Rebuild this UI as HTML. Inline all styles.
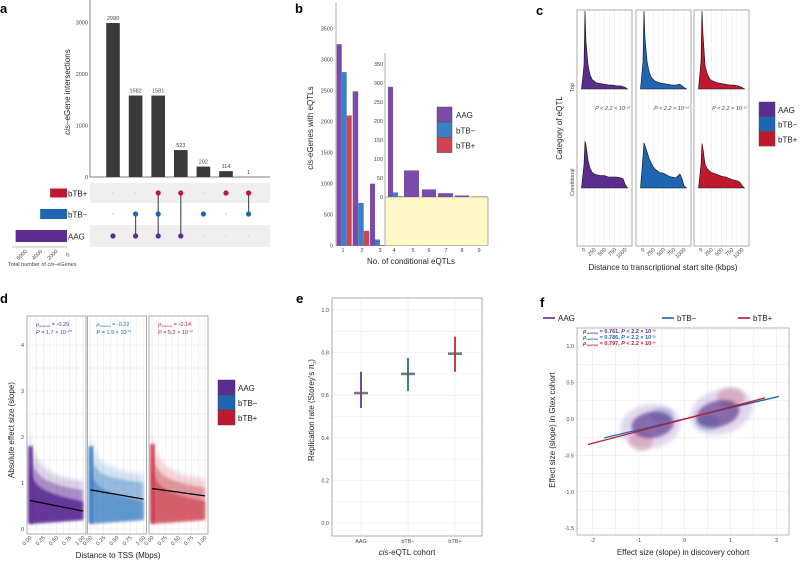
<!DOCTYPE html>
<html><head><meta charset="utf-8"><style>
html,body{margin:0;padding:0;background:#fff}
svg{display:block;font-family:"Liberation Sans",sans-serif}
.tk{font-size:5.5px;fill:#444}
.lab{font-size:13px;font-weight:bold;fill:#000}
.ttl{font-size:8px;fill:#222}
.grid{stroke:#e6e6e6;stroke-width:0.5}
</style></head><body>
<svg id="fig" width="800" height="562" viewBox="0 0 800 562" xmlns="http://www.w3.org/2000/svg">
<defs><filter id="bl" x="-30%" y="-30%" width="160%" height="160%"><feGaussianBlur stdDeviation="2.5"/></filter>
<filter id="bl2"><feGaussianBlur stdDeviation="1.2"/></filter>
<filter id="bl3" x="-30%" y="-30%" width="160%" height="160%"><feGaussianBlur stdDeviation="1.6"/></filter></defs>
<g id="pa"></g>
<g id="pb"></g>
<g id="pc"></g>
<g id="pd"></g>
<g id="pe"></g>
<g id="pf"></g>
</svg>
<script>
// ---- data ----
const colors = ["#5a2d8f","#1f66b2","#c0182f"];
const cohorts = ["AAG","bTB\u2212","bTB+"];
// panel a
const interCounts = [2990,1582,1581,523,202,114,1];
const interSets = [[0],[1,0],[2,1,0],[2,0],[1],[2],[2,1]]; // 0 AAG,1 bTB-,2 bTB+
const setTotals = [6700,3500,2200];
const aTicks = [0,1000,2000,3000];
const aSetTicks = [6000,4000,2000,0];
// panel b
const bCats = [1,2,3,4,5,6,7,8,9];
const bAAG = [3250,2490,1000,290,70,20,10,4,1];
const bNeg = [2800,690,100,12,0,0,0,0,0];
const bPos = [2100,240,10,2,0,0,0,0,0];
const bTicks = [0,500,1000,1500,2000,2500,3000,3500];
const bInsetTicks = [0,50,100,150,200,250,300,350];
// panel c
const cKb = [-60,0,25,50,100,150,200,250,300,400,500,600,700,800,900,950,1000,1060];
const cTop = [
 [0,0.3,1.0,0.6,0.3,0.18,0.12,0.1,0.08,0.07,0.06,0.05,0.05,0.04,0.04,0.03,0.02,0],
 [0,0.35,1.0,0.65,0.35,0.22,0.15,0.12,0.1,0.08,0.07,0.06,0.05,0.05,0.06,0.04,0.02,0],
 [0,0.35,1.0,0.7,0.3,0.2,0.14,0.11,0.1,0.08,0.07,0.06,0.05,0.05,0.04,0.03,0.02,0]];
const cCond = [
 [0,0.3,0.6,0.55,0.35,0.25,0.2,0.18,0.17,0.16,0.16,0.14,0.14,0.14,0.13,0.12,0.05,0],
 [0,0.4,0.58,0.54,0.46,0.38,0.32,0.27,0.24,0.2,0.19,0.16,0.14,0.13,0.18,0.12,0.03,0],
 [0,0.3,0.57,0.5,0.3,0.25,0.22,0.2,0.19,0.17,0.15,0.14,0.12,0.1,0.09,0.07,0.03,0]];
const cTicks = [0,250,500,750,1000];
// panel d
const dFitStart = [0.62,0.85,0.88];
const dFitEnd = [0.39,0.65,0.72];
const dRho = ["-0.29","-0.22","-0.14"];
const dP = ["1.7 \u00d7 10","1.9 \u00d7 10","5.2 \u00d7 10"];
const dPexp = ["\u2212297","\u221266","\u221213"];
const dYTicks = [0,1,2,3,4];
const dXTicks = ["0.00","0.25","0.50","0.75","1.00"];
// panel e
const eMed = [0.61,0.70,0.795];
const eMin = [0.54,0.62,0.71];
const eMax = [0.71,0.775,0.875];
const eTicks = [0,0.2,0.4,0.6,0.8,1.0];
// panel f
const fFitX1 = [-1.75,-1.75,-2.1];
const fFitY1 = [-0.26,-0.26,-0.35];
const fFitX2 = [1.75,2.05,1.75];
const fFitY2 = [0.28,0.31,0.29];
const fRho = ["0.761","0.786","0.797"];
const fXTicks = [-2,-1,0,1,2];
const fYTicks = [1.0,0.5,0.0,-0.5,-1.0,-1.5];

// ---- helpers ----
const NS="http://www.w3.org/2000/svg";
function mk(parent,tag,attrs,text){const e=document.createElementNS(NS,tag);for(const k in attrs)e.setAttribute(k,attrs[k]);if(text!==undefined)e.textContent=text;parent.appendChild(e);return e;}
function T(parent,x,y,s,cls,extra){const e=mk(parent,"text",Object.assign({x:x,y:y,class:cls||"tk"},extra||{}),s);return e;}

// ================= PANEL A =================
(function(){
const g=document.getElementById("pa");
const l=T(g,0,13,"a","lab");


const y0=177, perK=51.5;
const ya=v=>y0-v/1000*perK;
const xa=i=>113+i*22.6;
mk(g,"line",{x1:90,y1:0,x2:90,y2:177,stroke:"#555","stroke-width":0.7});
mk(g,"line",{x1:90,y1:177,x2:270,y2:177,stroke:"#555","stroke-width":0.7});
aTicks.forEach(t=>{const e=T(g,88,ya(t)+2,t,"tk",{"text-anchor":"end"});
 
 });
const yt=T(g,0,0,"","ttl",{transform:"translate(70,92) rotate(-90)","text-anchor":"middle"});
yt.innerHTML='<tspan font-style="italic">cis</tspan>\u2013eGene intersections';


interCounts.forEach((v,i)=>{
 const r=mk(g,"rect",{x:xa(i)-6.8,y:ya(v),width:13.6,height:y0-ya(v),fill:"#3a3a3a"});
 
 
 const t=T(g,xa(i),ya(v)-3,v,"tk",{"text-anchor":"middle"});
 
 
});
const rowY=[236,214,193];
mk(g,"rect",{x:90,y:183,width:180,height:20,fill:"#efefef"});
mk(g,"rect",{x:90,y:225,width:180,height:22,fill:"#efefef"});
interSets.forEach((s,i)=>{
 for(let r=0;r<3;r++){ if(s.indexOf(r)<0) mk(g,"circle",{cx:xa(i),cy:rowY[r],r:1,fill:"#ddd"}); }
 const ys=s.map(r=>rowY[r]);
 if(s.length>1) mk(g,"line",{x1:xa(i),x2:xa(i),y1:Math.min(...ys),y2:Math.max(...ys),stroke:"#555","stroke-width":1.2});
 s.forEach(r=>{const c=mk(g,"circle",{cx:xa(i),cy:rowY[r],r:2.6,fill:colors[r]});
  
  });
});
const sx=v=>67-v/6000*46;
const hts=[12,10,9];
setTotals.forEach((v,r)=>{
 const b=mk(g,"rect",{x:sx(v),y:rowY[r]-hts[r]/2,width:67-sx(v),height:hts[r],fill:colors[r]});
 
 
 const t=T(g,68,rowY[r]+3.5,cohorts[r],"ttl",{"font-size":"8.5"});
 
 
});
mk(g,"line",{x1:12,y1:247,x2:67,y2:247,stroke:"#888","stroke-width":0.5});
aSetTicks.forEach(t=>{const e=T(g,0,0,t,"tk",{"font-size":"4.5",transform:`translate(${sx(t)+2},${256}) rotate(-45)`,"text-anchor":"middle"});
 
 });
const xt=T(g,8,266,"","tk",{"font-size":"5"});
xt.innerHTML='Total number of <tspan font-style="italic">cis</tspan>\u2013eGenes';


})();

// ================= PANEL B =================
(function(){
const g=document.getElementById("pb");
const l=T(g,295,13,"b","lab");


const y0=245.7, yb=v=>y0-v/500*31;
const yi=v=>197-v*0.38;
const grpX=[336.7,352.7,370,386.7,403.7,422,438,455,472];
const grpW=[5,5.5,5,5,15,14,15,14,15];
mk(g,"line",{x1:336,y1:2,x2:336,y2:y0,stroke:"#888","stroke-width":0.7});
mk(g,"line",{x1:336,y1:y0,x2:488,y2:y0,stroke:"#888","stroke-width":0.7});
bTicks.forEach(t=>{const e=T(g,333,yb(t)+2,t,"tk",{"text-anchor":"end","font-size":"5"});
 
 });
const tickX=[343,362,380,394,413,429,446,462,479];
bCats.forEach((c,i)=>{const e=T(g,tickX[i],252,c,"tk",{"text-anchor":"middle","font-size":"5"});
 
 });
const series=[bAAG,bNeg,bPos];
const lc=["#7a4ba8","#3a80c8","#cf4450"];
bCats.forEach((c,i)=>{series.forEach((s,k)=>{
 if(s[i]<=0)return; let x=grpX[i]+(i<3?k*grpW[i]:0); if(i>=3&&k>0)return;
 const r=mk(g,"rect",{x:x,y:yb(s[i]),width:grpW[i],height:y0-yb(s[i]),fill:lc[k]});
 
 
});});
mk(g,"rect",{x:385,y:197,width:103,height:48.5,fill:"#fff9c8"});
mk(g,"line",{x1:385,y1:53,x2:385,y2:245,stroke:"#777","stroke-width":0.6});
mk(g,"line",{x1:385,y1:197,x2:488,y2:197,stroke:"#777","stroke-width":0.6});
mk(g,"line",{x1:488,y1:197,x2:488,y2:245,stroke:"#777","stroke-width":0.6});
bInsetTicks.forEach(t=>{const e=T(g,383,yi(t)+2,t,"tk",{"text-anchor":"end","font-size":"4.5"});
 
 });
const inX=[0,0,0,388,404,422,438,455,472], inW=[0,0,0,5,15,14,15,14,15];
for(let i=3;i<9;i++){series.forEach((s,k)=>{
 if(s[i]<=0)return; if(i>3&&k>0)return;
 const r=mk(g,"rect",{x:inX[i]+(i===3?k*5:0),y:yi(s[i]),width:inW[i],height:197-yi(s[i]),fill:lc[k]});
 
 
});}
cohorts.forEach((n,k)=>{
 const r=mk(g,"rect",{x:437,y:107+k*15.3,width:15,height:15,fill:lc[k],stroke:"#555","stroke-width":0.5});
 
 
 const t=T(g,456,118+k*15.3,n,"ttl",{"font-size":"8"});
 
 
});
const yt=T(g,0,0,"","ttl",{transform:"translate(313,128) rotate(-90)","text-anchor":"middle","font-size":"7"});
yt.innerHTML='<tspan font-style="italic">cis</tspan>-eGenes with eQTLs';


const xt=T(g,411,264,"No. of conditional eQTLs","ttl",{"text-anchor":"middle","font-size":"7.5"});


})();

// ================= PANEL C =================
(function(){
const g=document.getElementById("pc");
const l=T(g,536,15,"c","lab");


const lefts=[577,636,694], W=55;
lefts.forEach((L,k)=>{
 const xk=v=>L+7+v*0.041;
 cTicks.forEach(t=>{mk(g,"line",{x1:xk(t),x2:xk(t),y1:10,y2:246,class:"grid"});
  mk(g,"line",{x1:xk(t+125),x2:xk(t+125),y1:10,y2:246,stroke:"#f0f0f0","stroke-width":0.4});});
 [[cTop[k],89,78],[cCond[k],188,78]].forEach(([d,base,h])=>{
  let p=`M${xk(cKb[0])},${base}`;
  cKb.forEach((v,i)=>{p+=` L${xk(v).toFixed(1)},${(base-d[i]*h).toFixed(1)}`;});
  p+=" Z";
  const e=mk(g,"path",{d:p,fill:colors[k],stroke:"#111","stroke-width":0.6});
  
  
 });
 mk(g,"rect",{x:L,y:10,width:W,height:236,fill:"none",stroke:"#888","stroke-width":0.7});
 const pt=T(g,L+W-2,110,"","tk",{"font-size":"4","text-anchor":"end","font-style":"italic"});
 pt.innerHTML='P &lt; 2.2 \u00d7 10<tspan dy="-1.5" font-size="3">\u221216</tspan>';
 
 
 cTicks.forEach(t=>{const e=T(g,0,0,t,"tk",{"font-size":"4.5","text-anchor":"end",transform:`translate(${xk(t)+2},${250}) rotate(-45)`});
  
  });
});
T(g,0,0,"Top","tk",{"font-size":"4.5",transform:"translate(574,92) rotate(-90)"});
T(g,0,0,"Conditional","tk",{"font-size":"4.5",transform:"translate(574,196) rotate(-90)"});
const yt=T(g,0,0,"Category of eQTL","ttl",{transform:"translate(562,128) rotate(-90)","text-anchor":"middle","font-size":"7.5"});


const xt=T(g,663,270,"Distance to transcriptional start site (kbps)","ttl",{"text-anchor":"middle","font-size":"7"});


cohorts.forEach((n,k)=>{
 const r=mk(g,"rect",{x:759,y:102+k*14.7,width:16,height:14.7,fill:colors[k],stroke:"#555","stroke-width":0.5});
 
 
 const t=T(g,778,113+k*14.7,n,"ttl",{"font-size":"8"});
 
 
});
})();

// ================= PANEL D =================
(function(){
const g=document.getElementById("pd");
const l=T(g,0,303,"d","lab");


const lefts=[27,87.5,149], W=59;
const yd=v=>529-v*46;
dYTicks.forEach(t=>{const e=T(g,24,yd(t)+2,t,"tk",{"text-anchor":"end","font-size":"5"});
 
 });
const fill=["#5f2f96","#3d80c4","#cc3a4c"];
lefts.forEach((L,k)=>{
 const xd=v=>L+3+v*53;
 mk(g,"rect",{x:L,y:316,width:W,height:218,fill:"#fff"});
 for(let j=0;j<=8;j++)mk(g,"line",{x1:xd(j/8),x2:xd(j/8),y1:316,y2:534,class:"grid"});
 for(let j=0;j<=8;j++)mk(g,"line",{x1:L,x2:L+W,y1:yd(j/2),y2:yd(j/2),class:"grid"});
 const top0=[1.8,1.8,1.85][k], topR=[1.05,1.2,1.1][k];
 const cl=mk(g,"g",{});
 
 
 mk(cl,"path",{d:`M${xd(0)},${yd(0.12)} L${xd(0)},${yd(top0+0.4)} C${xd(0.05)},${yd(1.5)} ${xd(0.2)},${yd(topR+0.1)} ${xd(1)},${yd(topR)} L${xd(1)},${yd(0.2)} Z`,fill:fill[k],opacity:0.22,filter:"url(#bl)"});
 mk(cl,"path",{d:`M${xd(0)},${yd(0.12)} L${xd(0)},${yd(top0)} C${xd(0.04)},${yd(1.2)} ${xd(0.15)},${yd(topR-0.05)} ${xd(1)},${yd(topR-0.2)} L${xd(1)},${yd(0.2)} Z`,fill:fill[k],opacity:0.4,filter:"url(#bl2)"});
 mk(cl,"path",{d:`M${xd(0)},${yd(0.12)} L${xd(0)},${yd(top0-0.4)} C${xd(0.04)},${yd(0.95)} ${xd(0.15)},${yd(0.8)} ${xd(1)},${yd(0.6)} L${xd(1)},${yd(0.2)} Z`,fill:fill[k],opacity:k===0?0.9:0.6,filter:"url(#bl2)"});
 mk(cl,"rect",{x:xd(0)-2,y:yd(top0),width:5,height:yd(0.12)-yd(top0),fill:fill[k],opacity:0.85,filter:"url(#bl2)"});
 const fl=mk(g,"line",{x1:xd(0),y1:yd(dFitStart[k]),x2:xd(1),y2:yd(dFitEnd[k]),stroke:"#000","stroke-width":1.2});
 
 
 mk(g,"rect",{x:L,y:316,width:W,height:218,fill:"none",stroke:"#999","stroke-width":0.8});
 const a1=T(g,L+9,326,"","tk",{"font-size":"5",style:`fill:${colors[k]}`});
 a1.innerHTML=`<tspan font-style="italic">\u03c1</tspan><tspan font-size="2.5" dy="1">spearman</tspan><tspan dy="-1"> = ${dRho[k]}</tspan>`;
 
 
 const a2=T(g,L+9,334,"","tk",{"font-size":"5",style:`fill:${colors[k]}`});
 a2.innerHTML=`<tspan font-style="italic">P</tspan> = ${dP[k]}<tspan font-size="2.8" dy="-2">${dPexp[k]}</tspan>`;
 
 
 dXTicks.forEach((t,j)=>{const e=T(g,0,0,t,"tk",{"font-size":"4.5","text-anchor":"end",transform:`translate(${xd(j/4)+2},${538}) rotate(-45)`});
  
  });
});
const yt=T(g,0,0,"Absolute effect size (slope)","ttl",{transform:"translate(14,430) rotate(-90)","text-anchor":"middle","font-size":"7.5"});


const xt=T(g,118,558,"Distance to TSS (Mbps)","ttl",{"text-anchor":"middle","font-size":"7.5"});


cohorts.forEach((n,k)=>{
 const r=mk(g,"rect",{x:218,y:380+k*15,width:17,height:15,fill:colors[k],stroke:"#444","stroke-width":0.5});
 
 
 const t=T(g,238,391+k*15,n,"ttl",{"font-size":"8"});
 
 
});
})();

// ================= PANEL E =================
(function(){
const g=document.getElementById("pe");
const l=T(g,296,303,"e","lab");


const ye=v=>523-v*213;
const xe=[361,408,455];
for(let v=0;v<=1.05;v+=0.1)mk(g,"line",{x1:332,x2:482,y1:ye(v),y2:ye(v),stroke:"#e8e8e8","stroke-width":0.5});
xe.forEach(x=>mk(g,"line",{x1:x,x2:x,y1:298,y2:536,class:"grid"}));
mk(g,"rect",{x:332,y:298,width:150,height:238,fill:"none",stroke:"#888","stroke-width":0.7});
eTicks.forEach(t=>{const e=T(g,329,ye(t)+2,t.toFixed(1),"tk",{"text-anchor":"end","font-size":"4.5"});
 
 });
cohorts.forEach((n,k)=>{
 const sp=mk(g,"rect",{x:xe[k]-1,y:ye(eMax[k]),width:2,height:ye(eMin[k])-ye(eMax[k]),fill:colors[k],opacity:0.85});
 
 
 const m=mk(g,"rect",{x:xe[k]-7,y:ye(eMed[k])-1.3,width:14,height:2.6,fill:"#555",opacity:0.8});
 
 
 const t=T(g,xe[k],543,n,"tk",{"text-anchor":"middle","font-size":"4.5"});
 
 
});
const yt=T(g,0,0,"","ttl",{transform:"translate(314,410) rotate(-90)","text-anchor":"middle","font-size":"7"});
yt.innerHTML='Replication rate (Storey\u2019s \u03c0<tspan font-size="4" dy="1.5">1</tspan><tspan dy="-1.5">)</tspan>';


const xt=T(g,407,555,"","ttl",{"text-anchor":"middle","font-size":"7"});
xt.innerHTML='<tspan font-style="italic">cis</tspan>-eQTL cohort';


})();

// ================= PANEL F =================
(function(){
const g=document.getElementById("pf");
const l=T(g,540,307,"f","lab");


const xf=v=>684.7+v*46, yf=v=>419-v*72.8;
for(let v=-2;v<=2;v+=0.5)mk(g,"line",{x1:xf(v),x2:xf(v),y1:328,y2:535,class:"grid"});
for(let v=-1.5;v<=1;v+=0.25)mk(g,"line",{x1:577,x2:789,y1:yf(v),y2:yf(v),class:"grid"});
const cl=mk(g,"g",{});


// outer halos
mk(cl,"ellipse",{cx:xf(-0.75),cy:yf(-0.1),rx:30,ry:22,fill:"#a58cc8",opacity:0.35,filter:"url(#bl)",transform:`rotate(-10 ${xf(-0.75)} ${yf(-0.1)})`});
mk(cl,"ellipse",{cx:xf(0.8),cy:yf(0.1),rx:32,ry:22,fill:"#a58cc8",opacity:0.35,filter:"url(#bl)",transform:`rotate(-18 ${xf(0.8)} ${yf(0.1)})`});
// colored lobes
mk(cl,"ellipse",{cx:xf(-0.95),cy:yf(-0.3),rx:12,ry:10,fill:"#c9667a",opacity:0.35,filter:"url(#bl3)"});
mk(cl,"ellipse",{cx:xf(-0.5),cy:yf(0.05),rx:12,ry:8,fill:"#5b8fcf",opacity:0.35,filter:"url(#bl3)"});
mk(cl,"ellipse",{cx:xf(1.0),cy:yf(0.3),rx:14,ry:10,fill:"#c9667a",opacity:0.35,filter:"url(#bl3)"});
mk(cl,"ellipse",{cx:xf(0.5),cy:yf(-0.05),rx:12,ry:8,fill:"#5b8fcf",opacity:0.35,filter:"url(#bl3)"});
// cores
mk(cl,"ellipse",{cx:xf(-0.7),cy:yf(-0.08),rx:21,ry:13,fill:"#5a3388",opacity:0.65,filter:"url(#bl3)",transform:`rotate(-8 ${xf(-0.7)} ${yf(-0.08)})`});
mk(cl,"ellipse",{cx:xf(0.72),cy:yf(0.07),rx:22,ry:13,fill:"#5a3388",opacity:0.65,filter:"url(#bl3)",transform:`rotate(-15 ${xf(0.72)} ${yf(0.07)})`});
fFitX1.forEach((x1,k)=>{if(k===0)return;
 const ln=mk(g,"line",{x1:xf(x1),y1:yf(fFitY1[k]),x2:xf(fFitX2[k]),y2:yf(fFitY2[k]),stroke:colors[k],"stroke-width":1.3});
 
 
});
mk(g,"rect",{x:577,y:328,width:212,height:207,fill:"none",stroke:"#999","stroke-width":0.7});
fYTicks.forEach(t=>{const e=T(g,574,yf(t)+2,t.toFixed(1),"tk",{"text-anchor":"end","font-size":"5"});
 
 });
fXTicks.forEach(t=>{const e=T(g,xf(t),542,t,"tk",{"text-anchor":"middle","font-size":"5"});
 
 });
fRho.forEach((r,k)=>{
 const a=T(g,583,333+k*6,"","tk",{"font-size":"4.6","font-weight":"bold",style:`fill:${colors[k]}`});
 a.innerHTML=`<tspan font-style="italic">\u03c1</tspan><tspan font-size="2.5" dy="1">spearman</tspan><tspan dy="-1"> = ${r}, </tspan><tspan font-style="italic">P</tspan> &lt; 2.2 \u00d7 10<tspan font-size="2.5" dy="-1.5">\u221216</tspan>`;
 
 
});
const lx=[543,662,738];
cohorts.forEach((n,k)=>{
 const ln=mk(g,"line",{x1:lx[k],x2:lx[k]+12,y1:318,y2:318,stroke:colors[k],"stroke-width":1.6});
 
 
 const t=T(g,lx[k]+15,321,n,"ttl",{"font-size":"8"});
 
 
});
const yt=T(g,0,0,"Effect size (slope) in Gtex cohort","ttl",{transform:"translate(555,430) rotate(-90)","text-anchor":"middle","font-size":"7.5"});


const xt=T(g,683,555,"Effect size (slope) in discovery cohort","ttl",{"text-anchor":"middle","font-size":"7.5"});


})();
</script>
</body></html>
